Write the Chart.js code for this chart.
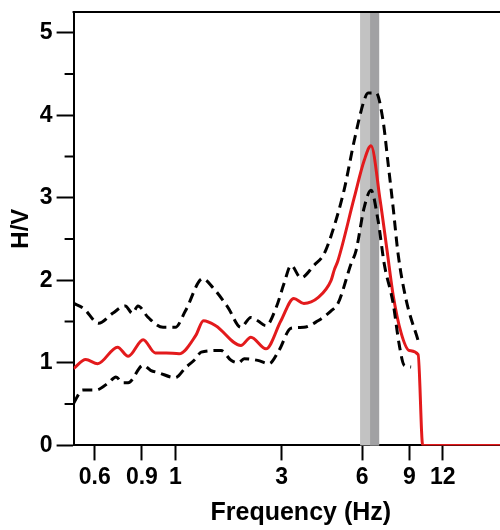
<!DOCTYPE html>
<html>
<head>
<meta charset="utf-8">
<script src="https://cdn.jsdelivr.net/npm/chart.js@4.4.1/dist/chart.umd.min.js"></script>
<style>
  html, body { margin: 0; padding: 0; background: #fff; overflow: hidden; }
  #wrap { width: 528px; height: 530px; }
</style>
</head>
<body>
<div id="wrap"><canvas id="hvChart" width="528" height="530"></canvas></div>
<script>
// H/V spectral ratio, frequencies in Hz
const meanFreq = [0.5, 0.555, 0.615, 0.73, 0.80, 0.91, 1.01, 1.11, 1.24, 1.43, 1.53, 1.70, 2.11, 2.30, 2.62, 2.98,
    3.33, 3.63, 4.10, 4.59, 4.71, 4.87, 5.60, 6.10, 6.47, 7.0, 7.43, 7.83, 8.39, 8.99, 9.71, 10.1, 25];
const meanHV = [0.93, 1.04, 0.99, 1.19, 1.08, 1.28, 1.12, 1.12, 1.11, 1.33, 1.51, 1.45, 1.21, 1.31, 1.17, 1.51,
    1.78, 1.72, 1.79, 2.0, 2.12, 2.24, 3.0, 3.45, 3.63, 2.97, 2.36, 1.82, 1.36, 1.15, 1.10, 0, 0];

const upperFreq = [0.5, 0.545, 0.62, 0.70, 0.78, 0.83, 0.87, 0.95, 1.08, 1.20, 1.31, 1.52, 1.66, 1.89, 2.11, 2.30,
    2.44, 2.62, 2.86, 3.06, 3.25, 3.54, 3.96, 4.32, 4.59, 5.13, 5.60, 6.10, 6.31, 6.76, 7.18, 7.50, 7.83, 8.17, 8.76, 9.71];
const upperHV = [1.72, 1.66, 1.48, 1.60, 1.69, 1.60, 1.69, 1.55, 1.43, 1.43, 1.63, 2.02, 1.91, 1.67, 1.43, 1.55,
    1.51, 1.45, 1.67, 1.96, 2.18, 2.03, 2.18, 2.32, 2.54, 3.09, 3.69, 4.18, 4.27, 4.27, 3.93, 3.41, 2.88, 2.32, 1.76, 1.27];

const lowerFreq = [0.5, 0.54, 0.605, 0.676, 0.72, 0.763, 0.80, 0.91, 0.97, 1.04, 1.20, 1.31, 1.43, 1.50, 1.78, 1.94,
    2.07, 2.17, 2.44, 2.69, 2.93, 3.25, 3.63, 4.10, 4.59, 4.87, 5.45, 5.69, 6.10, 6.47, 6.88, 7.25, 7.83, 8.24, 8.61, 9.14];
const lowerHV = [0.51, 0.67, 0.67, 0.76, 0.83, 0.76, 0.76, 0.97, 0.91, 0.88, 0.82, 0.94, 1.05, 1.13, 1.15, 1.03,
    1.0, 1.05, 1.03, 0.99, 1.15, 1.42, 1.43, 1.51, 1.63, 1.72, 2.2, 2.36, 2.88, 3.09, 2.72, 2.2, 1.72, 1.23, 0.97, 0.95];

// peak frequency band (Hz)
const bandWide = [5.89, 6.94];
const bandNarrow = [6.42, 6.94];

const xTicks = [0.6, 0.9, 1.2, 3, 6, 9, 12];
const xTickLabels = ['0.6', '0.9', '1', '3', '6', '9', '12'];
const yTicks = [0, 1, 2, 3, 4, 5];
const yMinorTicks = [0.5, 1.5, 2.5, 3.5, 4.5];

const FONT = "'Liberation Sans', Arial, sans-serif";

function toPoints(xs, ys) {
    return xs.map((x, i) => ({ x: x, y: ys[i] }));
}

// shaded band, top frame line and minor y ticks
const framePlugin = {
    id: 'frame',
    beforeDatasetsDraw(chart) {
        const { ctx, chartArea: a, scales: { x } } = chart;
        ctx.save();
        ctx.fillStyle = '#c2c2c2';
        let x0 = x.getPixelForValue(bandWide[0]);
        let x1 = x.getPixelForValue(bandWide[1]);
        ctx.fillRect(x0, a.top, x1 - x0, a.bottom - a.top);
        ctx.fillStyle = '#a1a1a3';
        x0 = x.getPixelForValue(bandNarrow[0]);
        x1 = x.getPixelForValue(bandNarrow[1]);
        ctx.fillRect(x0, a.top, x1 - x0, a.bottom - a.top);
        ctx.restore();
    },
    afterDraw(chart) {
        const { ctx, chartArea: a, scales: { y } } = chart;
        ctx.save();
        ctx.strokeStyle = '#000';
        ctx.lineWidth = 2;
        ctx.beginPath();
        ctx.moveTo(a.left - 1, a.top);
        ctx.lineTo(a.right, a.top);
        yMinorTicks.forEach(v => {
            const py = y.getPixelForValue(v);
            ctx.moveTo(a.left - 9, py);
            ctx.lineTo(a.left, py);
        });
        ctx.stroke();
        ctx.restore();
    }
};

const ctx = document.getElementById('hvChart');
new Chart(ctx, {
    type: 'line',
    data: {
        datasets: [
            {
                label: 'Upper',
                data: toPoints(upperFreq, upperHV),
                borderColor: '#000',
                borderWidth: 3,
                borderDash: [10, 6],
                pointRadius: 0,
                cubicInterpolationMode: 'monotone',
                fill: false
            },
            {
                label: 'Lower',
                data: toPoints(lowerFreq, lowerHV),
                borderColor: '#000',
                borderWidth: 3,
                borderDash: [10, 6],
                pointRadius: 0,
                cubicInterpolationMode: 'monotone',
                fill: false
            },
            {
                label: 'Mean H/V',
                data: toPoints(meanFreq, meanHV),
                borderColor: '#e31a1c',
                borderWidth: 3,
                pointRadius: 0,
                cubicInterpolationMode: 'monotone',
                fill: false
            }
        ]
    },
    options: {
        responsive: false,
        animation: false,
        devicePixelRatio: 1,
        layout: {
            padding: { top: 12, right: 0, bottom: 0, left: 7 }
        },
        plugins: {
            legend: { display: false },
            tooltip: { enabled: false }
        },
        scales: {
            x: {
                type: 'logarithmic',
                min: 0.5,
                max: 25,
                afterBuildTicks: scale => {
                    scale.ticks = xTicks.map(v => ({ value: v }));
                },
                ticks: {
                    autoSkip: false,
                    maxRotation: 0,
                    color: '#000',
                    padding: 3,
                    font: { family: FONT, size: 23, weight: 'bold' },
                    callback: (value, index) => xTickLabels[index]
                },
                grid: {
                    drawOnChartArea: false,
                    tickLength: 15,
                    tickWidth: 2,
                    color: '#000'
                },
                border: { color: '#000', width: 2 },
                title: {
                    display: true,
                    text: 'Frequency (Hz)',
                    color: '#000',
                    font: { family: FONT, size: 25, weight: 'bold' },
                    padding: { top: 4, bottom: 2 }
                }
            },
            y: {
                min: 0,
                max: 5.25,
                afterBuildTicks: scale => {
                    scale.ticks = yTicks.map(v => ({ value: v }));
                },
                // top tick sits below the frame, so no extra label room needed
                afterFit: scale => {
                    scale.paddingTop = 0;
                },
                ticks: {
                    color: '#000',
                    padding: 4,
                    font: { family: FONT, size: 23, weight: 'bold' }
                },
                grid: {
                    drawOnChartArea: false,
                    tickLength: 17,
                    tickWidth: 2,
                    color: '#000'
                },
                border: { color: '#000', width: 2 },
                title: {
                    display: true,
                    text: 'H/V',
                    color: '#000',
                    font: { family: FONT, size: 24, weight: 'bold' },
                    padding: { top: 0, bottom: 0 }
                }
            }
        }
    },
    plugins: [framePlugin]
});
</script>
</body>
</html>
